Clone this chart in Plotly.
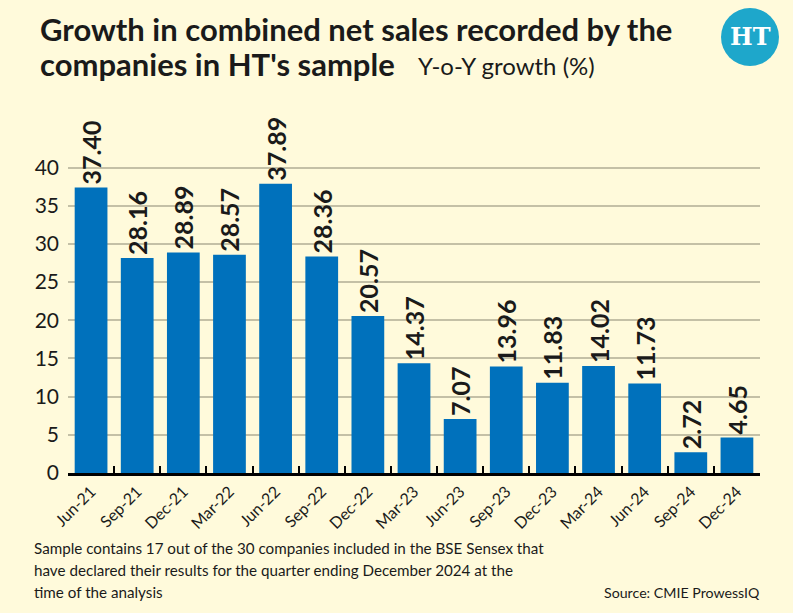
import plotly.graph_objects as go

categories = ["Jun-21", "Sep-21", "Dec-21", "Mar-22", "Jun-22", "Sep-22", "Dec-22", "Mar-23",
              "Jun-23", "Sep-23", "Dec-23", "Mar-24", "Jun-24", "Sep-24", "Dec-24"]
growth = [37.40, 28.16, 28.89, 28.57, 37.89, 28.36, 20.57, 14.37,
          7.07, 13.96, 11.83, 14.02, 11.73, 2.72, 4.65]
value_labels = [f"{v:.2f}" for v in growth]
y_ticks = [0, 5, 10, 15, 20, 25, 30, 35, 40]

title_line1 = "Growth in combined net sales recorded by the"
title_line2 = "companies in HT's sample"
subtitle = "Y-o-Y growth (%)"
footnote = ["Sample contains 17 out of the 30 companies included in the BSE Sensex that",
            "have declared their results for the quarter ending December 2024 at the",
            "time of the analysis"]
source = "Source: CMIE ProwessIQ"

W, H = 793, 613
L, R, T, B = 68, 33, 137, 140
BG = "#FFFADB"
FONT = "Lato, sans-serif"

def px(x):
    return (x - L) / (W - L - R)

def py(y):
    return (H - B - y) / (H - B - T)

fig = go.Figure()
fig.add_trace(go.Bar(
    x=categories, y=growth, text=value_labels,
    textposition="outside", textangle=-90, constraintext="none", cliponaxis=False,
    textfont=dict(family=FONT, size=25, color="#1a1a1a", weight="bold"),
    marker=dict(color="#0071BC", line=dict(width=0)),
    hoverinfo="skip",
))

ann = [
    dict(text=title_line1, x=px(38), y=py(29), xanchor="left", yanchor="middle",
         font=dict(family=FONT, size=31, color="#1a1a1a", weight="bold")),
    dict(text=title_line2, x=px(38), y=py(64), xanchor="left", yanchor="middle",
         font=dict(family=FONT, size=31, color="#1a1a1a", weight="bold")),
    dict(text=subtitle, x=px(416), y=py(65), xanchor="left", yanchor="middle",
         font=dict(family=FONT, size=24, color="#1a1a1a")),
    dict(text="HT", x=px(750), y=py(37), xanchor="center", yanchor="middle",
         font=dict(family="DejaVu Serif, serif", size=24, color="white", weight="bold")),
    dict(text=source, x=px(762), y=py(592), xanchor="right", yanchor="middle",
         font=dict(family=FONT, size=14.2, color="#1a1a1a")),
]
for i, line in enumerate(footnote):
    ann.append(dict(text=line, x=px(32), y=py(548 + 22 * i), xanchor="left", yanchor="middle",
                    font=dict(family=FONT, size=15.2, color="#1a1a1a")))
for a in ann:
    a.update(xref="paper", yref="paper", showarrow=False)

fig.update_layout(
    width=W, height=H,
    margin=dict(l=L, r=R, t=T, b=B, pad=0),
    paper_bgcolor=BG, plot_bgcolor=BG,
    bargap=0.29,
    showlegend=False,
    annotations=ann,
    shapes=[dict(type="circle", xref="paper", yref="paper",
                 x0=px(721), x1=px(779), y0=py(8), y1=py(66),
                 fillcolor="#1EA7CB", line=dict(width=0), layer="below")],
    xaxis=dict(
        showline=True, linecolor="black", linewidth=3,
        ticks="inside", tickson="boundaries", ticklen=7, tickwidth=2, tickcolor="black",
        tickangle=-45, tickfont=dict(family=FONT, size=16, color="#1a1a1a"),
        showgrid=False, fixedrange=True,
    ),
    yaxis=dict(
        range=[0, 44], tickvals=y_ticks, ticks="", ticklabelstandoff=8,
        tickfont=dict(family=FONT, size=21, color="#1a1a1a"),
        showgrid=True, gridcolor="#C4C0A6", gridwidth=2, zeroline=False,
        showline=False, fixedrange=True,
    ),
)

fig.write_html("out.html")
